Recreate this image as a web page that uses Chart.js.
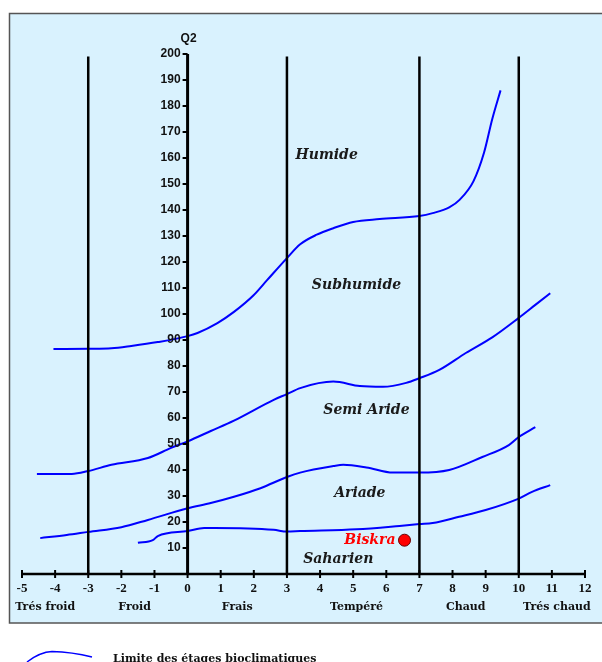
<!DOCTYPE html>
<html>
<head>
<meta charset="utf-8">
<script src="https://cdn.jsdelivr.net/npm/chart.js@4"></script>
<style>
  html, body { margin: 0; padding: 0; background: #fff; }
  canvas { display: block; }
</style>
</head>
<body>
<canvas id="climagramme" width="602" height="662"></canvas>
<script>
// Emberger climagram: m (°C) on x, Q2 on y
const yTicks = [10, 20, 30, 40, 50, 60, 70, 80, 90, 100, 110, 120, 130, 140, 150, 160, 170, 180, 190, 200];
const xTicks = [-5, -4, -3, -2, -1, 0, 1, 2, 3, 4, 5, 6, 7, 8, 9, 10, 11, 12];

const winterNames = ["Trés froid", "Froid", "Frais", "Tempéré", "Chaud", "Trés chaud"];
const winterCenters = [-4.3, -1.6, 1.5, 5.1, 8.4, 11.15];
const winterLimits = [-3, 3, 7, 10];

const stageNames = ["Humide", "Subhumide", "Semi Aride", "Ariade", "Saharien"];
const stageX = [4.2, 5.1, 5.4, 5.2, 4.55];
const stageY = [161, 111, 63, 31, 5.5];

// limit Humide / Subhumide
const limitAx = [-4.05, -3, -2.3, -1.7, -0.9, 0, 0.3, 0.9, 1.4, 2.0, 2.4, 3, 3.4, 3.9, 4.4, 5.0, 5.8, 7, 7.4, 7.9, 8.22, 8.63, 8.95, 9.2, 9.45];
const limitAy = [86.5, 86.6, 86.8, 87.7, 89.2, 91.5, 92.7, 96.5, 100.8, 107.3, 113, 121.5, 126.8, 130.5, 133, 135.4, 136.5, 137.7, 138.8, 141, 144, 151, 162, 175, 186];
// limit Subhumide / Semi aride
const limitBx = [-4.55, -3.5, -3, -2.3, -1.2, -0.5, 0, 0.7, 1.4, 2.6, 3, 3.4, 4.4, 5.2, 5.9, 6.6, 7, 7.6, 8.4, 9.2, 10, 10.5, 10.95];
const limitBy = [38.5, 38.5, 39.6, 42, 44.6, 48.5, 51, 55, 59, 67, 69.2, 71.5, 74, 72.3, 72, 73.5, 75.3, 78.5, 85, 91, 98.5, 103.5, 108];
// limit Semi aride / Aride
const limitCx = [-4.45, -3.65, -3, -2, -1.2, 0, 0.7, 1.4, 2.2, 3, 3.4, 4.4, 4.7, 5.4, 6.2, 7, 7.9, 8.9, 9.7, 10, 10.5];
const limitCy = [13.8, 15, 16.2, 18, 20.8, 25.3, 27.3, 29.7, 33, 37.3, 39, 41.5, 42, 41, 39, 39, 40, 45, 49.6, 52.7, 56.5];
// limit Aride / Saharien
const limitDx = [-1.5, -1.05, -0.9, 0, 0.5, 0.8, 2.6, 3, 3.4, 5.1, 6.4, 7, 7.4, 8.2, 9, 10, 10.4, 10.95];
const limitDy = [12, 13, 14.6, 16.5, 17.7, 17.7, 17, 16.3, 16.5, 17.2, 18.5, 19.2, 19.6, 22, 24.6, 29, 31.6, 34.2];

const stationName = "Biskra";
const stationM = 6.55;
const stationQ2 = 13;

const limitTop = 199;

const toPoints = (xs, ys) => xs.map((x, i) => ({ x: x, y: ys[i] }));

const curveStyle = {
  borderColor: "#0000ff",
  borderWidth: 2,
  pointRadius: 0,
  fill: false,
  cubicInterpolationMode: "monotone"
};

const datasets = [];
winterLimits.forEach((m) => {
  datasets.push({
    data: [{ x: m, y: 0 }, { x: m, y: limitTop }],
    borderColor: "#000",
    borderWidth: 2.5,
    pointRadius: 0
  });
});
[[limitAx, limitAy], [limitBx, limitBy], [limitCx, limitCy], [limitDx, limitDy]].forEach(([xs, ys]) => {
  datasets.push(Object.assign({ data: toPoints(xs, ys) }, curveStyle));
});
datasets.push({
  type: "scatter",
  data: [{ x: stationM, y: stationQ2 }],
  pointRadius: 6,
  backgroundColor: "#ff0000",
  borderColor: "#600",
  borderWidth: 1
});

const decor = {
  id: "decor",
  beforeDraw(chart) {
    const ctx = chart.ctx;
    ctx.save();
    ctx.fillStyle = "#fff";
    ctx.fillRect(0, 0, chart.width, chart.height);
    ctx.fillStyle = "#d9f2fe";
    ctx.fillRect(9.5, 13.5, 600, 609.5);
    ctx.strokeStyle = "#555";
    ctx.lineWidth = 1.5;
    ctx.strokeRect(9.5, 13.5, 600, 609.5);
    ctx.restore();
  },
  afterDatasetsDraw(chart) {
    const ctx = chart.ctx;
    const xs = chart.scales.x;
    const ys = chart.scales.y;
    const x0 = xs.getPixelForValue(0);
    const yBase = ys.getPixelForValue(0);
    ctx.save();

    // y axis
    ctx.strokeStyle = "#000";
    ctx.lineWidth = 3;
    ctx.beginPath();
    ctx.moveTo(x0, yBase);
    ctx.lineTo(x0, ys.getPixelForValue(200));
    ctx.stroke();
    ctx.lineWidth = 2;
    ctx.font = 'bold 12px "Liberation Sans"';
    ctx.fillStyle = "#111";
    ctx.textAlign = "right";
    ctx.textBaseline = "middle";
    yTicks.forEach((v) => {
      const py = ys.getPixelForValue(v);
      ctx.beginPath();
      ctx.moveTo(x0 - 5, py);
      ctx.lineTo(x0, py);
      ctx.stroke();
      ctx.fillText(String(v), x0 - 7, py);
    });
    ctx.textAlign = "center";
    ctx.fillText("Q2", x0 + 1, 39);

    // x axis
    ctx.lineWidth = 2.5;
    ctx.beginPath();
    ctx.moveTo(xs.getPixelForValue(-5), yBase);
    ctx.lineTo(xs.getPixelForValue(12), yBase);
    ctx.stroke();
    ctx.lineWidth = 2;
    ctx.font = 'bold 13px "Liberation Serif"';
    xTicks.forEach((v) => {
      const px = xs.getPixelForValue(v);
      ctx.beginPath();
      ctx.moveTo(px, yBase - 4);
      ctx.lineTo(px, yBase + 4);
      ctx.stroke();
      ctx.fillText(String(v), px, yBase + 15);
    });
    ctx.font = 'bold 11px "DejaVu Serif"';
    winterNames.forEach((n, i) => {
      ctx.fillText(n, xs.getPixelForValue(winterCenters[i]), yBase + 33);
    });

    // bioclimatic stages
    ctx.font = 'bold italic 14px "DejaVu Serif"';
    ctx.fillStyle = "#1a1a1a";
    stageNames.forEach((n, i) => {
      ctx.fillText(n, xs.getPixelForValue(stageX[i]), ys.getPixelForValue(stageY[i]));
    });

    // station label
    ctx.fillStyle = "#ff0000";
    ctx.textAlign = "right";
    ctx.fillText(stationName, xs.getPixelForValue(stationM) - 9, ys.getPixelForValue(stationQ2));

    // legend
    ctx.strokeStyle = "#0000ff";
    ctx.lineWidth = 1.5;
    ctx.beginPath();
    ctx.moveTo(27, 662);
    ctx.quadraticCurveTo(40, 652, 52, 651.5);
    ctx.quadraticCurveTo(72, 652, 92, 657);
    ctx.stroke();
    ctx.fillStyle = "#111";
    ctx.textAlign = "left";
    ctx.textBaseline = "alphabetic";
    ctx.font = 'bold 11px "DejaVu Serif"';
    ctx.fillText("Limite des étages bioclimatiques", 113, 662);
    ctx.restore();
  }
};

new Chart(document.getElementById("climagramme"), {
  type: "line",
  data: { datasets: datasets },
  options: {
    responsive: false,
    animation: false,
    layout: { padding: { left: 22, right: 17, top: 54, bottom: 88 } },
    scales: {
      x: { type: "linear", min: -5, max: 12, display: false },
      y: { type: "linear", min: 0, max: 200, display: false }
    },
    plugins: {
      legend: { display: false },
      tooltip: { enabled: false }
    }
  },
  plugins: [decor]
});
</script>
</body>
</html>
